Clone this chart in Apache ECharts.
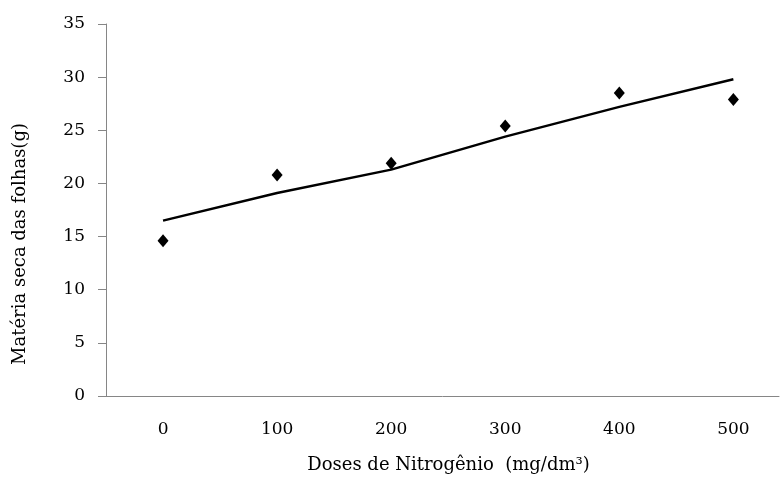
<!DOCTYPE html>
<html>
<head>
<meta charset="utf-8">
<script src="https://cdn.jsdelivr.net/npm/echarts@6/dist/echarts.min.js"></script>
<style>html,body{margin:0;padding:0;background:#fff;}#c{width:782px;height:485px;}</style>
</head>
<body>
<div id="c"></div>
<script>
const doses = [0, 100, 200, 300, 400, 500];
const observed = [14.6, 20.8, 21.9, 25.4, 28.5, 27.9];
const fitted = [16.5, 19.1, 21.3, 24.4, 27.2, 29.8];
const yTicks = [0, 5, 10, 15, 20, 25, 30, 35];

const chart = echarts.init(document.getElementById('c'));
const font = 'DejaVu Serif';
chart.setOption({
  animation: false,
  backgroundColor: '#fff',
  grid: { left: 106, right: 0, top: 24, bottom: 89, containLabel: false },
  xAxis: {
    type: 'value', min: -50, max: 540, interval: 50,
    name: 'Doses de Nitrogênio  (mg/dm³)',
    nameLocation: 'middle', nameGap: 60,
    nameTextStyle: { fontFamily: font, fontSize: 18, color: '#000', padding: [0, 0, 0, 12] },
    axisLine: { show: true, onZero: false, lineStyle: { color: '#868686', width: 1 } },
    axisTick: { show: false },
    splitLine: { show: false },
    axisLabel: {
      margin: 25, fontFamily: font, fontSize: 17, color: '#000',
      formatter: v => doses.indexOf(v) >= 0 ? String(v) : ''
    }
  },
  yAxis: {
    type: 'value', min: yTicks[0], max: yTicks[yTicks.length - 1], interval: 5,
    name: 'Matéria seca das folhas(g)',
    nameLocation: 'middle', nameGap: 77, nameRotate: 90,
    nameTextStyle: { fontFamily: font, fontSize: 18, color: '#000', padding: [0, 68, 0, 0] },
    axisLine: { show: true, onZero: false, lineStyle: { color: '#868686', width: 1 } },
    axisTick: { show: true, length: 8, lineStyle: { color: '#868686' } },
    splitLine: { show: false },
    axisLabel: { margin: 21, fontFamily: font, fontSize: 17, color: '#000' }
  },
  series: [
    {
      type: 'line', data: doses.map((d, i) => [d, fitted[i]]),
      showSymbol: false, symbol: 'none',
      lineStyle: { color: '#000', width: 2.5 }, z: 2
    },
    {
      type: 'scatter', data: doses.map((d, i) => [d, observed[i]]),
      symbol: 'diamond', symbolSize: [11, 13],
      itemStyle: { color: '#000', opacity: 1 }, z: 3
    }
  ]
});
</script>
</body>
</html>
